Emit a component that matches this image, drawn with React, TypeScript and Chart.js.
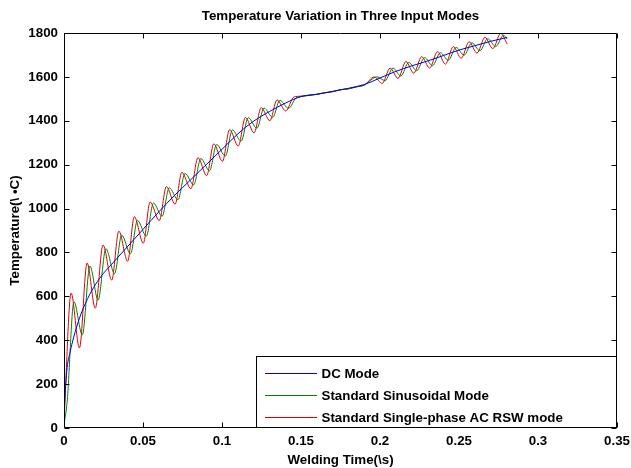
import React, { useEffect, useRef } from 'react';
import { Chart, registerables } from 'chart.js';

Chart.register(...registerables);

const TITLE = 'Temperature Variation in Three Input Modes';
const X_LABEL = 'Welding Time(\\s)';
const Y_LABEL = 'Temperature(\\ \u2022C)';
const SERIES_LABELS = ['DC Mode', 'Standard Sinusoidal Mode', 'Standard Single-phase AC RSW mode'];
const SERIES_COLORS = ['#0000e0', '#008000', '#e00000'];

const X_TICKS = [0, 0.05, 0.1, 0.15, 0.2, 0.25, 0.3, 0.35];
const X_TICK_LABELS = ['0', '0.05', '0.1', '0.15', '0.2', '0.25', '0.3', '0.35'];
const Y_TICKS = [0, 200, 400, 600, 800, 1000, 1200, 1400, 1600, 1800];
const Y_TICK_LABELS = ['0', '200', '400', '600', '800', '1000', '1200', '1400', '1600', '1800'];

// DC mode (smooth)
const dcTime = [0, 0.001, 0.002, 0.004, 0.006, 0.008, 0.01, 0.015, 0.02, 0.025, 0.03, 0.04, 0.05, 0.06, 0.07, 0.08, 0.09, 0.1, 0.11, 0.12, 0.13, 0.14, 0.15, 0.16, 0.17, 0.18, 0.19, 0.2, 0.21, 0.22, 0.23, 0.24, 0.25, 0.26, 0.27, 0.2805];
const dcTemp = [60, 190, 275, 350, 410, 460, 505, 590, 655, 705, 745, 825, 905, 985, 1060, 1130, 1200, 1270, 1340, 1398, 1442, 1480, 1510, 1521, 1534, 1548, 1565, 1595, 1625, 1650, 1672, 1697, 1722, 1742, 1762, 1780];

// Standard sinusoidal mode (peaks and troughs)
const sinTime = [0, 0.002, 0.0063, 0.0116, 0.0164, 0.0216, 0.0265, 0.032, 0.0365, 0.0421, 0.0465, 0.0521, 0.0566, 0.0621, 0.0666, 0.0721, 0.0766, 0.0821, 0.0866, 0.0921, 0.0966, 0.1021, 0.1066, 0.1121, 0.1166, 0.1221, 0.1266, 0.1321, 0.1366, 0.1421, 0.147, 0.15, 0.155, 0.16, 0.165, 0.17, 0.175, 0.18, 0.185, 0.19, 0.1982, 0.2032, 0.2082, 0.2132, 0.2182, 0.2232, 0.2282, 0.2332, 0.2382, 0.2432, 0.2482, 0.2532, 0.2582, 0.2632, 0.2682, 0.2732, 0.2782, 0.2805];
const sinTemp = [15, 120, 575, 424, 738, 583, 817, 703, 879, 794, 946, 874, 1025, 965, 1095, 1040, 1160, 1108, 1228, 1172, 1292, 1239, 1358, 1307, 1414, 1366, 1458, 1415, 1493, 1457, 1505, 1511, 1515, 1521, 1527, 1533, 1541, 1546, 1554, 1563, 1600, 1583, 1640, 1604, 1666, 1628, 1688, 1651, 1710, 1676, 1734, 1699, 1755, 1719, 1774, 1738, 1790, 1772];

// Standard single-phase AC RSW mode (peaks and troughs)
const acTime = [0, 0.0045, 0.0098, 0.0146, 0.0198, 0.0247, 0.0302, 0.0347, 0.0403, 0.0445, 0.0502, 0.0545, 0.0603, 0.0648, 0.0703, 0.0746, 0.0803, 0.0848, 0.0903, 0.0948, 0.1003, 0.1048, 0.1103, 0.1148, 0.1203, 0.1248, 0.1303, 0.1348, 0.1403, 0.1455, 0.15, 0.155, 0.16, 0.165, 0.17, 0.175, 0.18, 0.185, 0.19, 0.1964, 0.2014, 0.2064, 0.2114, 0.2164, 0.2214, 0.2264, 0.2314, 0.2364, 0.2414, 0.2464, 0.2514, 0.2564, 0.2614, 0.2664, 0.2714, 0.2764, 0.2805];
const acTemp = [30, 615, 365, 752, 546, 834, 674, 897, 760, 963, 842, 1030, 945, 1100, 1020, 1165, 1090, 1232, 1150, 1295, 1215, 1360, 1285, 1415, 1345, 1460, 1400, 1495, 1445, 1508, 1512, 1517, 1520, 1528, 1532, 1542, 1545, 1555, 1562, 1600, 1570, 1640, 1593, 1670, 1617, 1692, 1640, 1715, 1658, 1738, 1685, 1760, 1708, 1780, 1729, 1798, 1750];

const FONT_FAMILY = '"Liberation Sans", Arial, Helvetica, sans-serif';
const FONT_SIZE = 13.33;

const toPoints = (xs: number[], ys: number[]) => xs.map((x, i) => ({ x, y: ys[i] }));

const framePlugin = {
  id: 'matlabFrame',
  afterDatasetsDraw(chart: any) {
    const { ctx, chartArea: a, scales } = chart;
    const L = Math.round(a.left) + 0.5;
    const R = Math.round(a.right) - 0.5;
    const T = Math.round(a.top) + 0.5;
    const B = Math.round(a.bottom) - 0.5;
    ctx.save();
    ctx.strokeStyle = '#000';
    ctx.lineWidth = 1;
    ctx.beginPath();
    ctx.rect(L, T, R - L, B - T);
    const len = 5;
    scales.x.ticks.forEach((t: any) => {
      const px = Math.round(scales.x.getPixelForValue(t.value)) + 0.5;
      ctx.moveTo(px, B);
      ctx.lineTo(px, B - len);
      ctx.moveTo(px, T);
      ctx.lineTo(px, T + len);
    });
    scales.y.ticks.forEach((t: any) => {
      const py = Math.round(scales.y.getPixelForValue(t.value)) + 0.5;
      ctx.moveTo(L, py);
      ctx.lineTo(L + len, py);
      ctx.moveTo(R, py);
      ctx.lineTo(R - len, py);
    });
    ctx.stroke();
    ctx.restore();
  },
};

const legendBoxPlugin = {
  id: 'insideLegend',
  afterDraw(chart: any) {
    const { ctx, chartArea: a } = chart;
    const w = 360;
    const h = 71;
    const right = Math.round(a.right) - 0.5;
    const bottom = Math.round(a.bottom) - 0.5;
    const left = right - w;
    const top = bottom - h;
    ctx.save();
    ctx.fillStyle = '#fff';
    ctx.fillRect(left, top, w, h);
    ctx.strokeStyle = '#000';
    ctx.lineWidth = 1;
    ctx.strokeRect(left, top, w, h);
    const rows = [16, 38, 60];
    ctx.font = `bold ${FONT_SIZE}px ${FONT_FAMILY}`;
    ctx.textBaseline = 'middle';
    ctx.textAlign = 'left';
    chart.data.datasets.forEach((ds: any, i: number) => {
      const y = Math.round(top + rows[i]);
      ctx.fillStyle = SERIES_COLORS[i];
      ctx.fillRect(Math.round(left + 8), y, 52, 1);
      ctx.fillStyle = '#000';
      ctx.fillText(ds.label, left + 65, y + 1.5);
    });
    ctx.restore();
  },
};

export default function App() {
  const canvasRef = useRef<HTMLCanvasElement | null>(null);

  useEffect(() => {
    const canvas = canvasRef.current;
    if (!canvas) return;
    const font = { family: FONT_FAMILY, size: FONT_SIZE, weight: 'bold' as const };
    const chart = new Chart(canvas, {
      type: 'line',
      data: {
        datasets: [
          { label: SERIES_LABELS[0], data: toPoints(dcTime, dcTemp), borderColor: SERIES_COLORS[0] },
          { label: SERIES_LABELS[1], data: toPoints(sinTime, sinTemp), borderColor: SERIES_COLORS[1] },
          { label: SERIES_LABELS[2], data: toPoints(acTime, acTemp), borderColor: SERIES_COLORS[2] },
        ].map((d) => ({
          ...d,
          borderWidth: 1,
          pointRadius: 0,
          fill: false,
          tension: 0.4,
          cubicInterpolationMode: 'monotone' as const,
        })),
      },
      options: {
        animation: false,
        responsive: false,
        parsing: false as any,
        layout: { padding: { left: 0, right: 14, top: 0, bottom: 0 } },
        plugins: {
          legend: { display: false },
          tooltip: { enabled: false },
          title: {
            display: true,
            fullSize: false,
            text: TITLE,
            color: '#000',
            font,
            padding: { top: 8, bottom: 9 },
          },
        },
        scales: {
          x: {
            type: 'linear',
            min: 0,
            max: 0.35,
            afterBuildTicks: (s: any) => {
              s.ticks = X_TICKS.map((v) => ({ value: v }));
            },
            afterFit: (s: any) => {
              s.height = 40;
              s.paddingLeft = 0;
              s.paddingRight = 0;
            },
            grid: { display: false, drawTicks: false },
            border: { display: false },
            ticks: {
              color: '#000',
              font,
              padding: 5,
              maxRotation: 0,
              autoSkip: false,
              callback: (_v: any, i: number) => X_TICK_LABELS[i],
            },
            title: {
              display: true,
              text: X_LABEL,
              color: '#000',
              font,
              padding: { top: 0, bottom: 0 },
            },
          },
          y: {
            type: 'linear',
            min: 0,
            max: 1800,
            afterBuildTicks: (s: any) => {
              s.ticks = Y_TICKS.map((v) => ({ value: v }));
            },
            afterFit: (s: any) => {
              s.width = 64;
            },
            grid: { display: false, drawTicks: false },
            border: { display: false },
            ticks: {
              color: '#000',
              font,
              padding: 6,
              autoSkip: false,
              callback: (_v: any, i: number) => Y_TICK_LABELS[i],
            },
            title: {
              display: true,
              text: Y_LABEL,
              color: '#000',
              font,
              padding: { top: 7, bottom: 0 },
            },
          },
        },
      },
      plugins: [framePlugin, legendBoxPlugin],
    });
    return () => chart.destroy();
  }, []);

  return (
    <div style={{ position: 'fixed', left: 0, top: 0, width: 631, height: 468, background: '#fff' }}>
      <canvas ref={canvasRef} width={631} height={468} style={{ display: 'block' }} />
    </div>
  );
}
